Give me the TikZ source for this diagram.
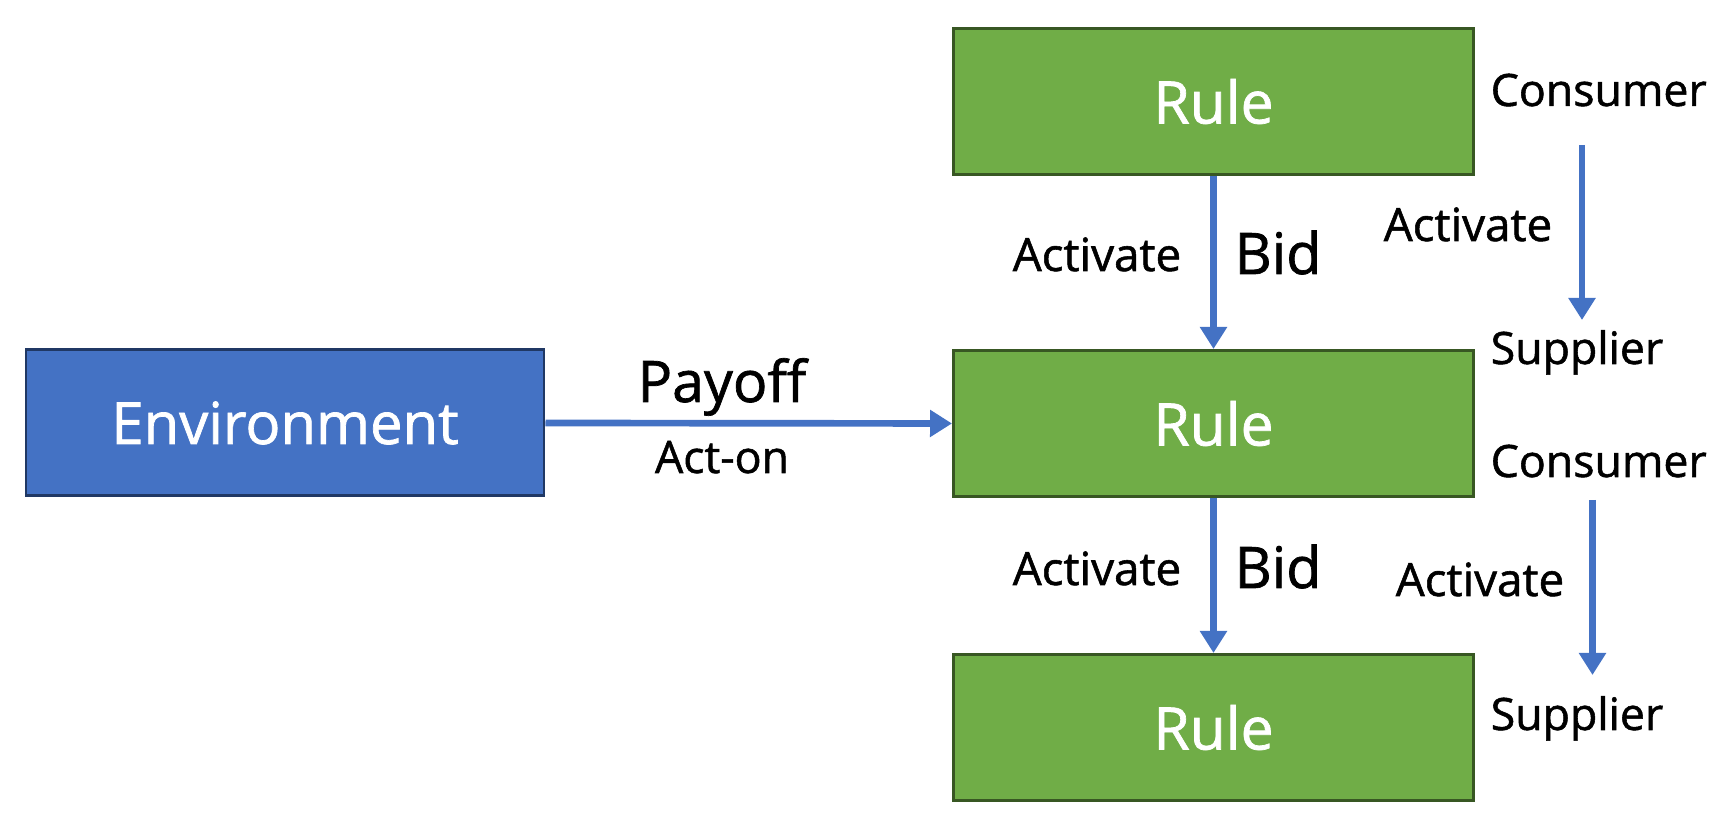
\documentclass[tikz,border=0pt]{standalone}
\usepackage{fontspec}
\setmainfont{Open Sans}[FakeBold=1.2]
\usepackage{xcolor}
\usetikzlibrary{arrows.meta}

\definecolor{envblue}{HTML}{4472C4}
\definecolor{envedge}{HTML}{203864}
\definecolor{rulegreen}{HTML}{70AD47}
\definecolor{ruleedge}{HTML}{385723}

\begin{document}
\begin{tikzpicture}[
    envbox/.style={draw=envedge,fill=envblue,line width=0.85pt,minimum width=5.18cm,minimum height=1.46cm,text=white,font=\fontsize{16.5}{18}\selectfont},
    rulebox/.style={draw=ruleedge,fill=rulegreen,line width=0.85pt,minimum width=5.2cm,minimum height=1.46cm,text=white,font=\fontsize{16.7}{18}\selectfont},
    flow/.style={draw=envblue,line width=1.9pt,-{Triangle[length=0.22cm,width=0.26cm]}},
    biglbl/.style={anchor=base,font=\fontsize{16.3}{18}\selectfont},
    lbl/.style={anchor=base,font=\fontsize{13}{15}\selectfont},
    sidelbl/.style={anchor=base west,inner xsep=0pt,font=\fontsize{12.7}{15}\selectfont}]
        \useasboundingbox (0,0) rectangle (17.34,8.32);
        % Environment and rules
        \draw (2.85,4.09) node[envbox](env) {Environment};
        \draw (12.135,7.305) node[rulebox](rule1) {Rule};
        \draw (12.135,4.085) node[rulebox](rule2) {Rule};
        \draw (12.135,1.045) node[rulebox](rule3) {Rule};
        % Payoff
        \draw[flow] (env.east) -- (rule2.west);
        \draw (7.22,4.30) node[biglbl](payoff) {Payoff};
        \draw (7.22,3.59) node[lbl,font=\fontsize{12.7}{15}\selectfont](acton) {Act-on};
        % Bids between rules
        \draw[flow] (rule1.south) -- (rule2.north);
        \draw[flow] (rule2.south) -- (rule3.north);
        \draw (10.97,5.61) node[lbl](act1) {Activate};
        \draw (12.78,5.58) node[biglbl](bid1) {Bid};
        \draw (10.97,2.47) node[lbl](act2) {Activate};
        \draw (12.78,2.44) node[biglbl](bid2) {Bid};
        % Consumer / supplier
        \draw (14.90,7.26) node[sidelbl](cons1) {Consumer};
        \draw (14.90,4.68) node[sidelbl](supp1) {Supplier};
        \draw (14.90,3.55) node[sidelbl](cons2) {Consumer};
        \draw (14.90,1.02) node[sidelbl](supp2) {Supplier};
        \coordinate (c1a) at (15.82,6.87);
        \coordinate (c1b) at (15.82,5.12);
        \coordinate (c2a) at (15.925,3.32);
        \coordinate (c2b) at (15.925,1.57);
        \draw[flow] (c1a) -- (c1b);
        \draw[flow] (c2a) -- (c2b);
        \draw (14.68,5.91) node[lbl](act3) {Activate};
        \draw (14.80,2.36) node[lbl](act4) {Activate};
    \end{tikzpicture}
\end{document}
